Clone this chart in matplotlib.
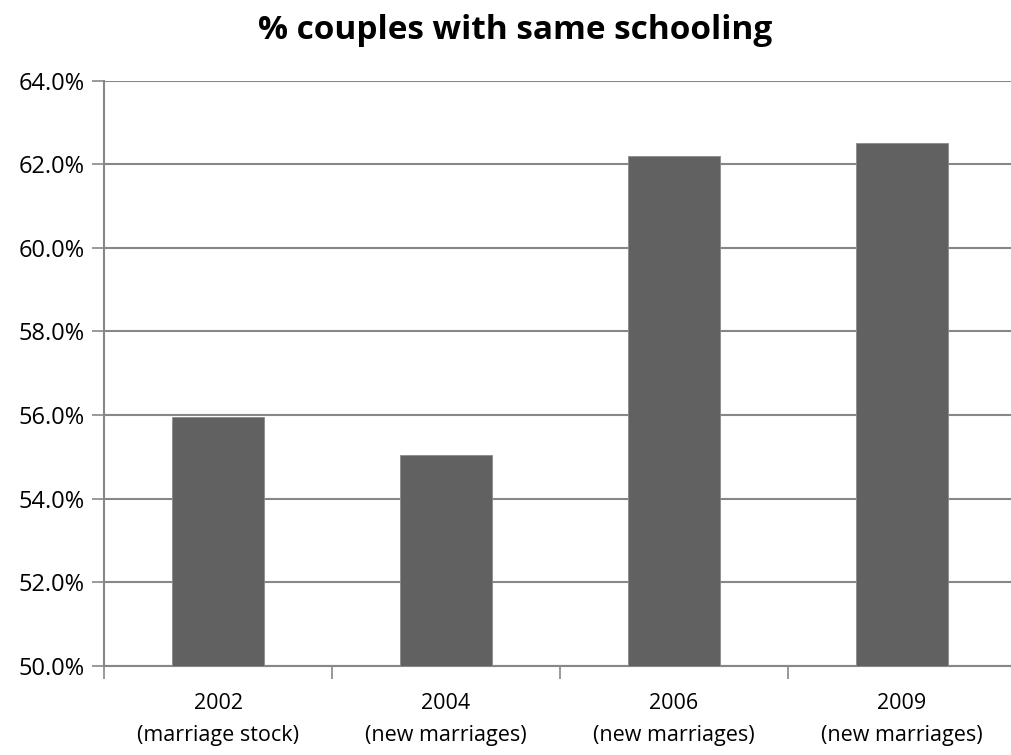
# Bar chart: share of couples with the same schooling level, by survey year.

import matplotlib.pyplot as plt
from matplotlib.ticker import FuncFormatter, FixedLocator

years = ["2002", "2004", "2006", "2009"]
samples = ["(marriage stock)", "(new marriages)", "(new marriages)", "(new marriages)"]
same_schooling = [55.95, 55.05, 62.2, 62.5]

plt.rcParams["font.family"] = ["Open Sans", "DejaVu Sans"]

GRID = "#878787"
BAR = "#616161"

fig = plt.figure(figsize=(10.11, 7.55), dpi=100)
ax = fig.add_axes([0.1029, 0.1183, 0.902, 0.7748])

x = range(len(years))
ax.bar(x, [v - 50 for v in same_schooling], bottom=50, width=0.4,
       color=BAR, edgecolor="#8a8a8a", linewidth=0.6, zorder=3)

ax.set_ylim(50, 64)
ax.set_xlim(-0.5, len(years) - 0.5)
ax.set_yticks(range(50, 65, 2))
ax.yaxis.set_major_formatter(FuncFormatter(lambda v, _: f"{v:.1f}%"))
ax.grid(axis="y", color=GRID, linewidth=1.5, zorder=0)

ax.set_xticks(list(x))
ax.set_xticklabels([f"{y}\n{s}" for y, s in zip(years, samples)],
                   fontsize=15.5, linespacing=1.65)
ax.xaxis.set_minor_locator(FixedLocator([i - 0.5 for i in range(len(years) + 1)]))
ax.tick_params(axis="x", which="major", length=0, pad=20)
ax.tick_params(axis="x", which="minor", length=9, width=1.2, color=GRID)
ax.tick_params(axis="y", length=9, width=1.2, color=GRID, labelsize=17, pad=5)

for side in ["top", "right"]:
    ax.spines[side].set_visible(False)
for side in ["left", "bottom"]:
    ax.spines[side].set_color(GRID)
    ax.spines[side].set_linewidth(1.5)

fig.text(0.51, 0.96, "% couples with same schooling", ha="center", va="center",
         fontsize=24, fontweight="bold")

fig.savefig("out.png", dpi=100)
